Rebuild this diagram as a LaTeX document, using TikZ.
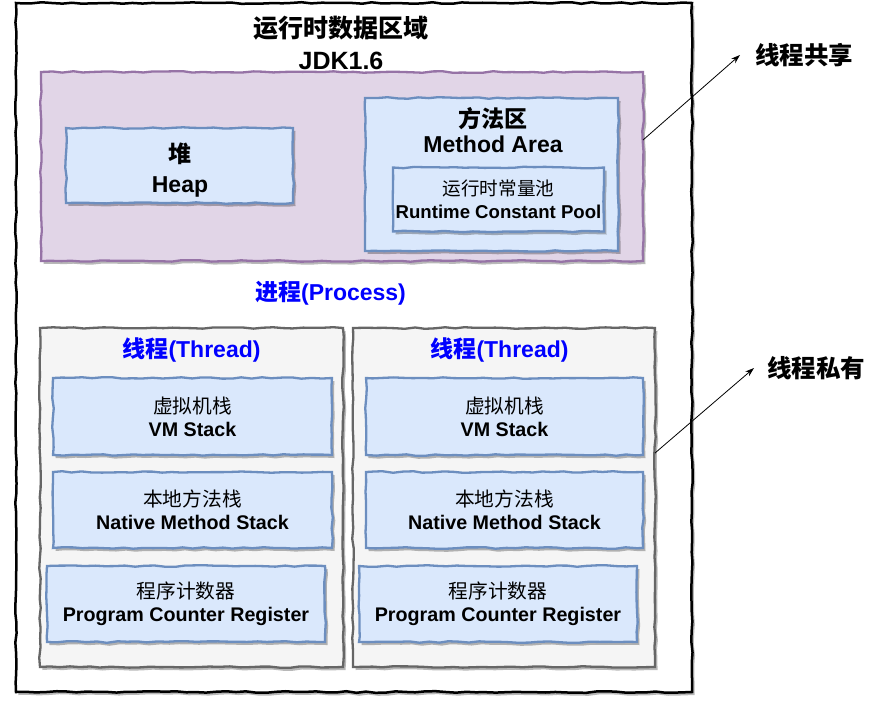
\documentclass[tikz,border=0pt]{standalone}
\usepackage{fontspec}
\setmainfont{Liberation Sans}
\newfontfamily\cjk{Noto Sans CJK SC}
\usetikzlibrary{shadows,decorations.pathmorphing,arrows.meta}
\definecolor{blueF}{HTML}{DAE8FC}
\definecolor{blueS}{HTML}{6C8EBF}
\definecolor{purpF}{HTML}{E1D5E7}
\definecolor{purpS}{HTML}{9673A6}
\definecolor{grayF}{HTML}{F5F5F5}
\definecolor{grayS}{HTML}{666666}
\definecolor{txtBlue}{HTML}{0000FF}
\newcommand{\twol}[2]{{\cjk #1}\\#2}
\begin{document}
\begin{tikzpicture}[x=1pt,y=-1pt,
  sk/.style={decorate,decoration={random steps,segment length=10pt,amplitude=0.8pt}},
  shd/.style={drop shadow={shadow xshift=2.5pt,shadow yshift=-3pt,opacity=0.28,fill=black}},
  box/.style={sk,shd,line width=2.3pt,inner sep=0pt,outer sep=0pt,align=center},
  bluebox/.style={box,draw=blueS,fill=blueF},
  purpbox/.style={box,draw=purpS,fill=purpF},
  graybox/.style={box,draw=grayS,fill=grayF},
  outerbox/.style={box,draw=black,fill=white,line width=2.5pt},
  small/.style={font=\fontsize{19.7}{23}\selectfont\bfseries},
  bluelabel/.style={inner sep=0pt,text=txtBlue,font=\fontsize{23}{28}\selectfont\bfseries},
  sidelabel/.style={inner sep=0pt,anchor=west,font=\fontsize{24.5}{28}\selectfont\bfseries\cjk},
  conn/.style={line width=0.8pt,-{Stealth[length=9pt,width=6pt]}}
]
\pgfmathsetseed{7}
\useasboundingbox (0,0) rectangle (880,705);

\node[outerbox,minimum width=676pt,minimum height=689pt] (outer) at (354,347.5) {};
\node[inner sep=0pt,align=center,font=\fontsize{25}{32}\selectfont\bfseries] (title) at (341,42.5)
  {\twol{运行时数据区域}{JDK1.6}};

\node[purpbox,minimum width=602pt,minimum height=189pt] (purple) at (342,166.5) {};
\node[bluebox,minimum width=227pt,minimum height=75pt] (heap) at (179.5,165.5) {};
\node[inner sep=0pt,align=center,font=\fontsize{23}{30}\selectfont\bfseries] (heaptxt) at (180,170)
  {\twol{堆}{Heap}};
\node[bluebox,minimum width=253pt,minimum height=153pt] (method) at (491.5,174.5) {};
\node[inner sep=0pt,align=center,font=\fontsize{23}{25}\selectfont\bfseries] (methodtxt) at (493,130.5)
  {\twol{方法区}{Method Area}};
\node[bluebox,minimum width=211pt,minimum height=64pt,font=\fontsize{18.6}{23}\selectfont\bfseries] (rcp) at (498.5,199.5)
  {{\cjk\mdseries 运行时常量池}\\Runtime Constant Pool};

\node[bluelabel] (process) at (330.5,293) {{\cjk 进程}(Process)};

\node[graybox,minimum width=303pt,minimum height=339pt] (threadL) at (191.5,497.5) {};
\node[graybox,minimum width=302pt,minimum height=339pt] (threadR) at (504,497.5) {};
\node[bluelabel] (tlabL) at (191.5,350) {{\cjk 线程}(Thread)};
\node[bluelabel] (tlabR) at (499.5,350) {{\cjk 线程}(Thread)};

\node[bluebox,small,minimum width=279pt,minimum height=77pt] (vmL) at (192.5,416.5)
  {{\cjk\mdseries 虚拟机栈}\\VM Stack};
\node[bluebox,small,minimum width=279pt,minimum height=76pt] (nmsL) at (192.5,510)
  {{\cjk\mdseries 本地方法栈}\\Native Method Stack};
\node[bluebox,small,minimum width=278pt,minimum height=76pt] (pcL) at (186,604)
  {{\cjk\mdseries 程序计数器}\\Program Counter Register};

\node[bluebox,small,minimum width=277pt,minimum height=77pt] (vmR) at (504.5,416.5)
  {{\cjk\mdseries 虚拟机栈}\\VM Stack};
\node[bluebox,small,minimum width=277pt,minimum height=76pt] (nmsR) at (504.5,510)
  {{\cjk\mdseries 本地方法栈}\\Native Method Stack};
\node[bluebox,small,minimum width=278pt,minimum height=76pt] (pcR) at (498,604)
  {{\cjk\mdseries 程序计数器}\\Program Counter Register};

\node[sidelabel] (shared) at (755,55) {线程共享};
\node[sidelabel] (private) at (767,368) {线程私有};
\coordinate (sharedFrom) at (643,140);
\coordinate (privateFrom) at (655,453);
\draw[conn] (sharedFrom) -- ([xshift=-15pt]shared.west);
\draw[conn] (privateFrom) -- ([xshift=-13pt]private.west);
\end{tikzpicture}
\end{document}
